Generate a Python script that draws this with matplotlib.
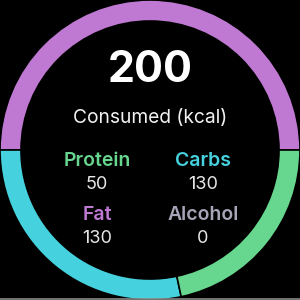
import matplotlib
matplotlib.use("Agg")
import matplotlib.pyplot as plt

# ring segments (degrees of the circle)
ring_names  = ["Fat", "Carbs", "Protein"]
ring_deg    = [180, 102, 78]
ring_colors = ["#bf79d3", "#45d1dd", "#67d68f"]

total_kcal  = "200"
total_label = "Consumed (kcal)"

macro_names  = ["Protein", "Carbs", "Fat", "Alcohol"]
macro_values = [50, 130, 130, 0]
macro_colors = ["#67d68f", "#45d1dd", "#bf79d3", "#a8a5b8"]

fnt = ["Inter", "DejaVu Sans"]

fig = plt.figure(figsize=(3, 3), dpi=100, facecolor="black")
ax = fig.add_axes([0, 0, 1, 1])
ax.set_facecolor("black")

ax.pie(ring_deg, colors=ring_colors, startangle=0, counterclock=True,
       center=(150, 150), radius=150,
       wedgeprops=dict(width=21, edgecolor="black", linewidth=1.2))
ax.set_xlim(0, 300)
ax.set_ylim(300, 0)
ax.set_aspect("equal")
ax.axis("off")

# pie draws with y up; flip y so the wedges go the right way
for p in ax.patches:
    p.set_transform(matplotlib.transforms.Affine2D().scale(1, -1).translate(0, 300) + ax.transData)

ax.text(150, 82, total_kcal, color="white", fontsize=31, fontweight="bold",
        ha="center", va="baseline", family=fnt)
ax.text(150, 123, total_label, color="#f2f2f2", fontsize=13.8,
        ha="center", va="baseline", family=fnt)

xs = [97, 203, 97, 203]
ys = [166, 166, 220, 220]
for name, val, col, x, y in zip(macro_names, macro_values, macro_colors, xs, ys):
    ax.text(x, y, name, color=col, fontsize=14, fontweight="semibold",
            ha="center", va="baseline", family=fnt)
    ax.text(x, y + 23, str(val), color="#e6e6e6", fontsize=13,
            ha="center", va="baseline", family=fnt)

fig.add_artist(plt.Line2D([0, 1], [0.003, 0.003], color="#8a8a8a", linewidth=1.2,
                          transform=fig.transFigure))

fig.savefig("out.png", dpi=100, facecolor="black")
